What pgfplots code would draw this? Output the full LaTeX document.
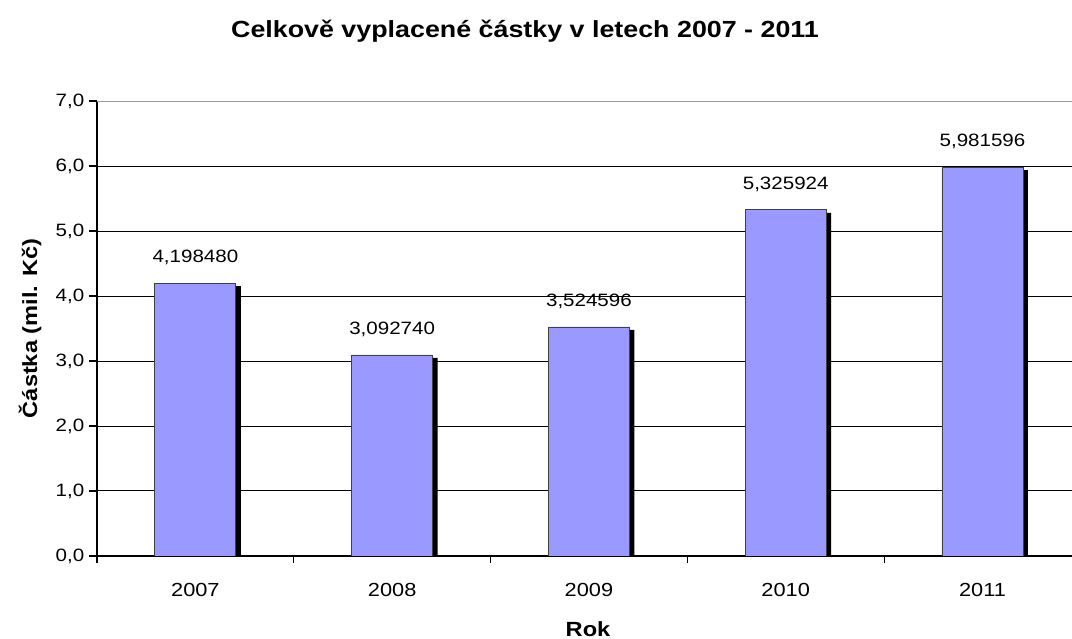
\documentclass[border=0pt]{standalone}
\usepackage{pgfplots}
\pgfplotsset{compat=1.18}
\usepackage{pgfplotstable}
\usepackage{fontspec}
\setmainfont{Liberation Sans}[FakeStretch=1.15]
\definecolor{barfill}{HTML}{9999FF}
\definecolor{barline}{HTML}{404040}

\pgfplotstableread{
x y label
0 4.198480 4,198480
1 3.092740 3,092740
2 3.524596 3,524596
3 5.325924 5,325924
4 5.981596 5,981596
}\castky

\begin{document}
\begin{tikzpicture}
\useasboundingbox (-72.75pt,-62.25pt) rectangle (731.25pt,417pt);
\begin{axis}[
    at={(0,0)}, anchor=south west,
    scale only axis,
    width=731.25pt, height=341.25pt,
    xmin=-0.5, xmax=4.455,
    ymin=0, ymax=7,
    ybar, bar width=60.75pt,
    axis x line*=bottom, axis y line*=left,
    axis line style={line width=1.2pt},
    tick align=outside,
    tick style={black, line width=0.8pt},
    major tick length=6pt, minor tick length=5pt,
    xtick={0,...,4},
    xticklabels={2007,2008,2009,2010,2011},
    major x tick style={draw=none},
    minor xtick={-0.5,0.5,1.5,2.5,3.5},
    ytick={0,...,6},
    extra y ticks={7},
    extra y tick style={grid style={gray!80, line width=0.75pt}},
    ymajorgrids,
    grid style={black, line width=0.75pt},
    /pgf/number format/assume math mode=true,
    yticklabel style={/pgf/number format/.cd, fixed, fixed zerofill, precision=1, use comma},
    ticklabel style={font=\fontsize{13.4}{15}\selectfont},
    xticklabel style={yshift=-11pt, font=\fontsize{14.2}{16}\selectfont},
    every axis title shift=0pt,
    title={\bfseries Celkově vyplacené částky v letech 2007 - 2011},
    title style={at={(axis description cs:0.439,1.154)}, anchor=center, font=\fontsize{17.5}{20}\selectfont},
    xlabel={\bfseries Rok},
    xlabel style={at={(axis description cs:0.5036,-0.161)}, anchor=center, font=\fontsize{15.4}{18}\selectfont},
    ylabel={\bfseries Částka (mil. Kč)},
    ylabel style={at={(axis description cs:-0.0687,0.5)}, anchor=center, font=\fontsize{15.4}{18}\selectfont},
]
% stin
\addplot[fill=black, draw=none, bar shift=3.75pt, yshift=-2.25pt] table[x=x, y=y] {\castky};
% sloupce
\addplot[fill=barfill, draw=barline, line width=0.6pt, bar shift=0pt,
    nodes near coords, point meta=explicit symbolic,
    nodes near coords style={font=\fontsize{13.4}{15}\selectfont, anchor=south, inner sep=0pt, yshift=13.5pt, text=black}]
    table[x=x, y=y, meta=label] {\castky};
\end{axis}
\end{tikzpicture}
\end{document}
